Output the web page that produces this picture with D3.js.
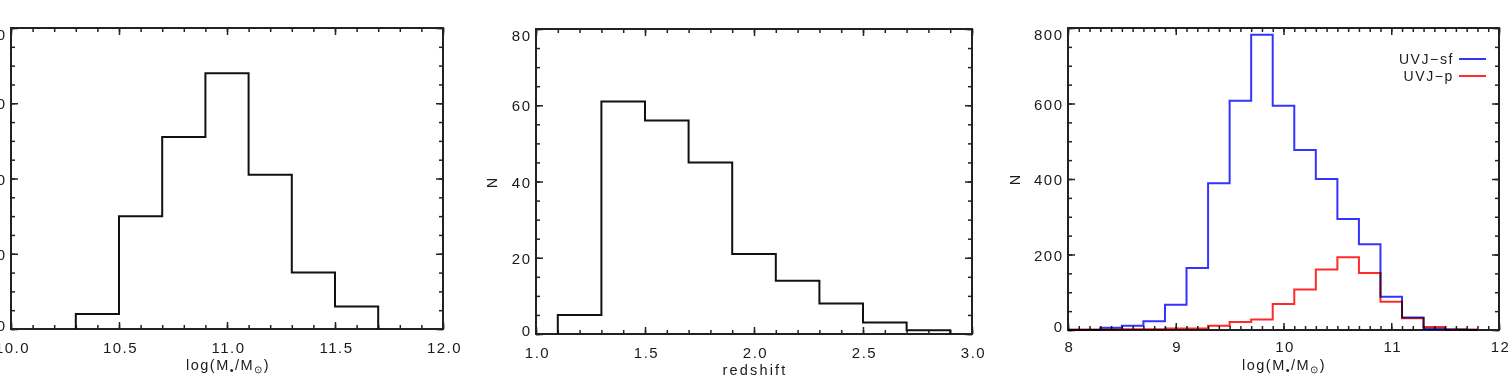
<!DOCTYPE html>
<html>
<head>
<meta charset="utf-8">
<script src="https://cdn.jsdelivr.net/npm/d3@7"></script>
<style>
body { margin: 0; background: #fff; }
svg { display: block; }
</style>
</head>
<body>
<div id="chart-area"></div>
<script>
// panel 1: stellar mass histogram (bin edges + counts)
var massEdges = [10.3, 10.5, 10.7, 10.9, 11.1, 11.3, 11.5, 11.7];
var massCounts = [4, 30, 51, 68, 41, 15, 6];
var massTicksX = [10.0, 10.5, 11.0, 11.5, 12.0];
var massTicksY = [0, 20, 40, 60, 80];

// panel 2: redshift histogram
var zEdges = [1.1, 1.3, 1.5, 1.7, 1.9, 2.1, 2.3, 2.5, 2.7, 2.9];
var zCounts = [5, 61, 56, 45, 21, 14, 8, 3, 1];
var zTicksX = [1.0, 1.5, 2.0, 2.5, 3.0];
var zTicksY = [0, 20, 40, 60, 80];

// panel 3: UVJ star-forming / passive, bin centres
var uvjCentres = [8.0, 8.2, 8.4, 8.6, 8.8, 9.0, 9.2, 9.4, 9.6, 9.8,
                  10.0, 10.2, 10.4, 10.6, 10.8, 11.0, 11.2, 11.4, 11.6, 11.8];
var uvjSf = [0, 0, 6, 11, 23, 67, 164, 389, 607, 782,
             594, 477, 400, 294, 227, 88, 33, 3, 1, 0];
var uvjP = [1, 1, 1, 2, 2, 4, 4, 11, 21, 28,
            69, 107, 160, 193, 151, 75, 31, 8, 1, 1];
var uvjTicksX = [8, 9, 10, 11, 12];
var uvjTicksY = [0, 200, 400, 600, 800];
var legendLabels = ["UVJ\u2212sf", "UVJ\u2212p"];
var legendColors = ["#3434ff", "#ff2a2a"];

var FONT = "'Liberation Sans', Arial, Helvetica, sans-serif";
var INK = "#222";
var TXT = "#1a1a1a";

var svg = d3.select("#chart-area")
    .append("svg")
    .attr("width", 1509)
    .attr("height", 378);

function minorRange(a, b, step) {
    return d3.range(a, b + step / 2, step).map(function(v) {
        return Math.round(v * 1000) / 1000;
    });
}

function styleAxis(sel) {
    sel.select(".domain").remove();
    sel.selectAll("line").attr("stroke", INK).attr("stroke-width", 1.5);
    sel.selectAll("text")
        .attr("fill", TXT)
        .attr("font-family", FONT)
        .attr("font-size", 15)
        .attr("letter-spacing", "1.5px");
}

function panel(box, xDomain, yDomain, xTicks, yTicks, xMinor, yMinor, fmtX, xPad) {
    var w = box.right - box.left;
    var h = box.bottom - box.top;
    var g = svg.append("g")
        .attr("transform", "translate(" + box.left + "," + box.top + ")");

    var x = d3.scaleLinear().domain(xDomain).range([0, w]);
    var y = d3.scaleLinear().domain(yDomain).range([h, 0]);

    var xm = minorRange(xDomain[0], xDomain[1], xMinor);
    var ym = minorRange(yDomain[0], yDomain[1], yMinor);

    // minor ticks on all four sides
    g.append("g").attr("transform", "translate(0," + h + ")")
        .call(d3.axisBottom(x).tickValues(xm).tickSize(-4).tickFormat(""))
        .call(styleAxis);
    g.append("g")
        .call(d3.axisTop(x).tickValues(xm).tickSize(-4).tickFormat(""))
        .call(styleAxis);
    g.append("g")
        .call(d3.axisLeft(y).tickValues(ym).tickSize(-4).tickFormat(""))
        .call(styleAxis);
    g.append("g").attr("transform", "translate(" + w + ",0)")
        .call(d3.axisRight(y).tickValues(ym).tickSize(-4).tickFormat(""))
        .call(styleAxis);

    // major ticks
    g.append("g").attr("transform", "translate(0," + h + ")")
        .call(d3.axisBottom(x).tickValues(xTicks).tickSize(-7).tickPadding(xPad).tickFormat(fmtX))
        .call(styleAxis)
        .selectAll("text").attr("dx", "1px");
    g.append("g")
        .call(d3.axisTop(x).tickValues(xTicks).tickSize(-7).tickFormat(""))
        .call(styleAxis);
    g.append("g")
        .call(d3.axisLeft(y).tickValues(yTicks).tickSize(-7).tickPadding(4.5).tickFormat(d3.format("d")))
        .call(styleAxis)
        .selectAll("text")
        .attr("dy", function(d) {
            if (d === yDomain[1]) return "11px";
            if (d === yDomain[0]) return "1px";
            return "5.5px";
        });
    g.append("g").attr("transform", "translate(" + w + ",0)")
        .call(d3.axisRight(y).tickValues(yTicks).tickSize(-7).tickFormat(""))
        .call(styleAxis);

    g.append("rect")
        .attr("width", w)
        .attr("height", h)
        .attr("fill", "none")
        .attr("stroke", INK)
        .attr("stroke-width", 2);

    return { g: g, x: x, y: y, w: w, h: h };
}

// stepped outline from edges/counts, dropping to zero at both ends
function edgeHist(p, edges, counts, color) {
    var pts = [[edges[0], 0]];
    counts.forEach(function(c, i) {
        pts.push([edges[i], c]);
        pts.push([edges[i + 1], c]);
    });
    pts.push([edges[edges.length - 1], 0]);
    var line = d3.line()
        .x(function(d) { return p.x(d[0]); })
        .y(function(d) { return p.y(d[1]); });
    p.g.append("path")
        .attr("d", line(pts))
        .attr("fill", "none")
        .attr("stroke", color)
        .attr("stroke-width", 2);
}

function massTitle(g, cx, yb) {
    var t = g.append("text")
        .attr("x", cx)
        .attr("y", yb)
        .attr("text-anchor", "middle")
        .attr("fill", TXT)
        .attr("font-family", FONT)
        .attr("font-size", 14.5)
        .attr("letter-spacing", "1.5px");
    t.append("tspan").text("log(M");
    t.append("tspan").attr("dy", 4).attr("font-size", 11).text("\u2022");
    t.append("tspan").attr("dy", -4).text("/M");
    t.append("tspan").attr("dy", 3).attr("font-size", 10).text("\u2299");
    t.append("tspan").attr("dy", -3).text(")");
}

function yTitle(g, xx, yy) {
    g.append("text")
        .attr("transform", "translate(" + xx + "," + yy + ") rotate(-90)")
        .attr("text-anchor", "middle")
        .attr("dy", "0.35em")
        .attr("fill", TXT)
        .attr("font-family", FONT)
        .attr("font-size", 14.5)
        .text("N");
}

// ---- panel 1
var p1 = panel({ left: 11, top: 28, right: 443, bottom: 329 },
    [10, 12], [0, 80], massTicksX, massTicksY, 0.1, 5, d3.format(".1f"), 13);
edgeHist(p1, massEdges, massCounts, "#111");
massTitle(svg, 228, 370);

// ---- panel 2
var p2 = panel({ left: 536, top: 29, right: 972, bottom: 334 },
    [1, 3], [0, 80], zTicksX, zTicksY, 0.1, 5, d3.format(".1f"), 13);
edgeHist(p2, zEdges, zCounts, "#111");
svg.append("text")
    .attr("x", 755)
    .attr("y", 375)
    .attr("text-anchor", "middle")
    .attr("fill", TXT)
    .attr("font-family", FONT)
    .attr("font-size", 14.5)
    .attr("letter-spacing", "2.2px")
    .text("redshift");
yTitle(svg, 492, 183);

// ---- panel 3
var p3 = panel({ left: 1068, top: 28, right: 1499, bottom: 330 },
    [8, 12], [0, 800], uvjTicksX, uvjTicksY, 0.1, 50, d3.format("d"), 11.5);

var stepLine = d3.line()
    .x(function(d) { return p3.x(d[0]); })
    .y(function(d) { return p3.y(d[1]); })
    .curve(d3.curveStep);

[uvjSf, uvjP].forEach(function(vals, i) {
    p3.g.append("path")
        .attr("d", stepLine(uvjCentres.map(function(c, j) { return [c, vals[j]]; })))
        .attr("fill", "none")
        .attr("stroke", legendColors[i])
        .attr("stroke-width", 2)
        .style("mix-blend-mode", "multiply");
});

var legend = p3.g.append("g");
legendLabels.forEach(function(lab, i) {
    var ly = 31 + i * 17;
    legend.append("text")
        .attr("x", 386)
        .attr("y", ly)
        .attr("dy", "0.36em")
        .attr("text-anchor", "end")
        .attr("fill", TXT)
        .attr("font-family", FONT)
        .attr("font-size", 14)
        .attr("letter-spacing", "1.6px")
        .text(lab);
    legend.append("line")
        .attr("x1", 391)
        .attr("x2", 418)
        .attr("y1", ly)
        .attr("y2", ly)
        .attr("stroke", legendColors[i])
        .attr("stroke-width", 2);
});

massTitle(svg, 1284, 370);
yTitle(svg, 1015, 180);
</script>
</body>
</html>
